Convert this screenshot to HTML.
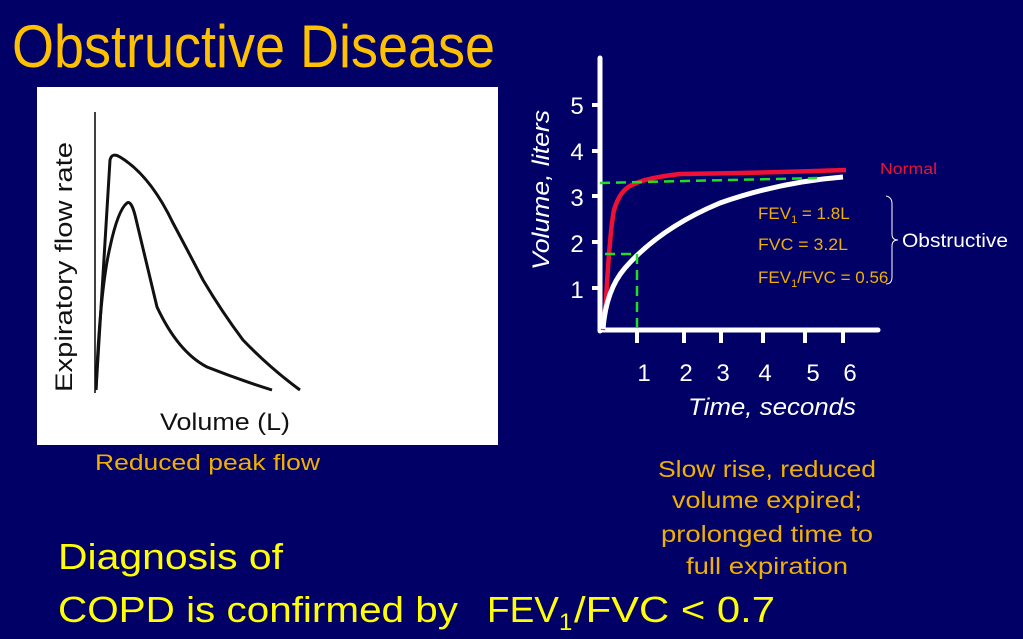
<!DOCTYPE html>
<html><head><meta charset="utf-8"><style>
html,body{margin:0;padding:0;background:#000066;}
svg{display:block;}
text{font-family:"Liberation Sans","DejaVu Sans",sans-serif;}
</style></head><body>
<svg width="1023" height="639" viewBox="0 0 1023 639" xmlns="http://www.w3.org/2000/svg">
<rect width="1023" height="639" fill="#000066"/>
<text x="12" y="67" font-size="60" fill="#ffc000" textLength="483" lengthAdjust="spacingAndGlyphs">Obstructive Disease</text>

<rect x="37" y="87" width="461" height="358" fill="#ffffff"/>
<line x1="95" y1="112" x2="95" y2="393" stroke="#000" stroke-width="1.5"/>
<path d="M96,390 L110,160 Q112,152 120,157 Q150,175 173,223 Q190,255 203,280 Q222,312 243,340 Q270,368 300,390" fill="none" stroke="#111" stroke-width="3"/>
<path d="M96,390 Q100,290 110,247 Q118,210 127,203 Q131,200 135,215 Q148,270 157,307 Q178,352 207,367 Q240,380 272,390" fill="none" stroke="#111" stroke-width="3"/>
<text x="0" y="0" font-size="24" fill="#111" transform="translate(72,392) rotate(-90)" textLength="250" lengthAdjust="spacingAndGlyphs">Expiratory flow rate</text>
<text x="160" y="430" font-size="24" fill="#111" textLength="130" lengthAdjust="spacingAndGlyphs">Volume (L)</text>

<text x="95" y="470" font-size="22" fill="#f0b000" textLength="225" lengthAdjust="spacingAndGlyphs">Reduced peak flow</text>

<line x1="600" y1="58" x2="600" y2="331" stroke="#fff" stroke-width="5" stroke-linecap="round"/>
<line x1="600" y1="330" x2="878" y2="330" stroke="#fff" stroke-width="5" stroke-linecap="round"/>
<g stroke="#fff" stroke-width="4">
<line x1="592" y1="105" x2="600" y2="105"/><line x1="592" y1="151" x2="600" y2="151"/>
<line x1="592" y1="196" x2="600" y2="196"/><line x1="592" y1="242" x2="600" y2="242"/>
<line x1="592" y1="288" x2="600" y2="288"/>
<line x1="637" y1="330" x2="637" y2="343"/><line x1="684" y1="330" x2="684" y2="343"/>
<line x1="721" y1="330" x2="721" y2="343"/><line x1="763" y1="330" x2="763" y2="343"/>
<line x1="805" y1="330" x2="805" y2="343"/><line x1="843" y1="330" x2="843" y2="343"/>
</g>
<g font-size="24" fill="#fff" text-anchor="middle">
<text x="577" y="114">5</text><text x="577" y="160">4</text><text x="577" y="206">3</text>
<text x="577" y="252">2</text><text x="577" y="298">1</text>
<text x="644" y="381">1</text><text x="686" y="381">2</text><text x="723" y="381">3</text>
<text x="765" y="381">4</text><text x="813" y="381">5</text><text x="850" y="381">6</text>
</g>
<text transform="translate(549,270) rotate(-90)" font-size="24" font-style="italic" fill="#fff" textLength="160" lengthAdjust="spacingAndGlyphs">Volume, liters</text>
<text x="688" y="415" font-size="24" font-style="italic" fill="#fff" textLength="168" lengthAdjust="spacingAndGlyphs">Time, seconds</text>

<path d="M603,330 Q604,320 606,300 Q610,230 614,210 Q620,190 632,185 Q645,178 680,174 Q760,173 846,170" fill="none" stroke="#ee1133" stroke-width="4.5"/>
<path d="M603,329 Q606,290 625,268 Q660,228 720,203 Q780,182 843,177" fill="none" stroke="#fff" stroke-width="5"/>
<g stroke="#22dd22" stroke-width="2.5" stroke-dasharray="10,6" fill="none">
<line x1="600" y1="183" x2="817" y2="178"/>
<line x1="605" y1="254" x2="637" y2="254"/>
<line x1="637" y1="254" x2="637" y2="330"/>
</g>
<text x="880" y="174" font-size="16" fill="#ee1133" textLength="57" lengthAdjust="spacingAndGlyphs">Normal</text>
<g font-size="17" fill="#f0b000">
<text x="758" y="219">FEV<tspan font-size="11" dy="4">1</tspan><tspan dy="-4"> = 1.8L</tspan></text>
<text x="758" y="250" textLength="90" lengthAdjust="spacingAndGlyphs">FVC = 3.2L</text>
<text x="758" y="283">FEV<tspan font-size="11" dy="4">1</tspan><tspan dy="-4">/FVC = 0.56</tspan></text>
</g>
<path d="M886,196 Q892,197 892,204 L892,234 Q892,240 898,240 Q892,240 892,246 L892,277 Q892,284 886,284" fill="none" stroke="#fff" stroke-width="1"/>
<text x="902" y="247" font-size="19" fill="#fff" textLength="106" lengthAdjust="spacingAndGlyphs">Obstructive</text>

<g font-size="23" fill="#f0b000" text-anchor="middle">
<text x="767" y="477" textLength="218" lengthAdjust="spacingAndGlyphs">Slow rise, reduced</text>
<text x="767" y="508" textLength="190" lengthAdjust="spacingAndGlyphs">volume expired;</text>
<text x="767" y="542" textLength="212" lengthAdjust="spacingAndGlyphs">prolonged time to</text>
<text x="767" y="574" textLength="162" lengthAdjust="spacingAndGlyphs">full expiration</text>
</g>

<text x="58" y="569" font-size="36" fill="#ffff00" textLength="225" lengthAdjust="spacingAndGlyphs">Diagnosis of</text>
<text x="58" y="622" font-size="36" fill="#ffff00" textLength="400" lengthAdjust="spacingAndGlyphs">COPD is confirmed by</text>
<text x="487" y="622" font-size="36" fill="#ffff00" textLength="72" lengthAdjust="spacingAndGlyphs">FEV</text>
<text x="559" y="630" font-size="24" fill="#ffff00">1</text>
<text x="574" y="622" font-size="36" fill="#ffff00" textLength="201" lengthAdjust="spacingAndGlyphs">/FVC &lt; 0.7</text>
</svg>
</body></html>
